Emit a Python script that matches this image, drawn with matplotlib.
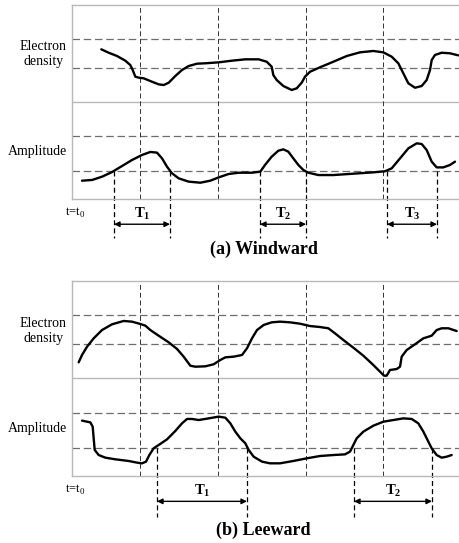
import matplotlib
matplotlib.use('Agg')
import matplotlib.pyplot as plt

plt.rcParams['font.family'] = ['Liberation Serif', 'DejaVu Serif']
plt.rcParams['mathtext.fontset'] = 'custom'
plt.rcParams['mathtext.rm'] = 'Liberation Serif'
plt.rcParams['mathtext.bf'] = 'Liberation Serif:bold'

# time axis runs 0..10, each panel: amplitude 0..1, electron density 1..2
grid_t = [1.757, 3.773, 6.047, 8.036]
ref_levels = [0.29, 0.65, 1.35, 1.65]

wind_dens_t = [0.757, 0.948, 1.163, 1.377, 1.506, 1.568, 1.636, 1.723, 1.853, 2.067,
               2.240, 2.370, 2.499, 2.669, 2.842, 3.015, 3.230, 3.444, 3.791, 4.134,
               4.478, 4.824, 5.031, 5.160, 5.202, 5.289, 5.460, 5.677, 5.806, 5.935,
               6.021, 6.150, 6.408, 6.752, 7.098, 7.442, 7.786, 8.044, 8.261, 8.432,
               8.561, 8.690, 8.863, 9.036, 9.165, 9.251, 9.295, 9.380, 9.553, 9.767, 9.982]
wind_dens_v = [1.543, 1.508, 1.474, 1.426, 1.381, 1.330, 1.261, 1.251, 1.244, 1.209,
               1.182, 1.175, 1.199, 1.268, 1.330, 1.371, 1.395, 1.399, 1.409, 1.426,
               1.440, 1.440, 1.415, 1.364, 1.278, 1.227, 1.165, 1.124, 1.141, 1.199,
               1.261, 1.312, 1.358, 1.415, 1.474, 1.512, 1.526, 1.512, 1.467, 1.399,
               1.296, 1.193, 1.147, 1.165, 1.227, 1.330, 1.433, 1.485, 1.508, 1.502, 1.481]

wind_amp_t = [0.258, 0.517, 0.775, 1.034, 1.292, 1.550, 1.809, 2.024, 2.196, 2.326,
              2.455, 2.584, 2.756, 3.015, 3.316, 3.574, 3.790, 4.048, 4.307, 4.651,
              4.866, 4.987, 5.159, 5.332, 5.461, 5.590, 5.719, 5.849, 5.978, 6.107,
              6.365, 6.753, 7.270, 7.787, 8.088, 8.260, 8.476, 8.691, 8.906, 9.036,
              9.165, 9.294, 9.423, 9.595, 9.768, 9.897]
wind_amp_v = [0.189, 0.196, 0.230, 0.278, 0.340, 0.402, 0.454, 0.485, 0.478, 0.419,
              0.333, 0.265, 0.213, 0.179, 0.168, 0.189, 0.223, 0.258, 0.271, 0.271,
              0.282, 0.351, 0.436, 0.498, 0.512, 0.488, 0.419, 0.351, 0.299, 0.271,
              0.247, 0.247, 0.261, 0.275, 0.286, 0.316, 0.419, 0.522, 0.574, 0.567,
              0.505, 0.385, 0.326, 0.326, 0.351, 0.385]

lee_dens_t = [0.172, 0.258, 0.388, 0.560, 0.775, 1.034, 1.335, 1.550, 1.766, 1.895,
              2.024, 2.239, 2.498, 2.713, 2.885, 3.058, 3.187, 3.445, 3.661, 3.833,
              3.962, 4.177, 4.393, 4.522, 4.651, 4.780, 4.953, 5.159, 5.375, 5.633,
              5.892, 6.150, 6.408, 6.624, 6.796, 7.011, 7.270, 7.528, 7.787, 7.959,
              8.062, 8.131, 8.217, 8.390, 8.476, 8.519, 8.648, 8.863, 9.079, 9.294,
              9.423, 9.552, 9.725, 9.940]
lee_dens_v = [1.166, 1.241, 1.326, 1.412, 1.497, 1.556, 1.590, 1.583, 1.559, 1.542,
              1.497, 1.439, 1.371, 1.303, 1.224, 1.131, 1.121, 1.125, 1.146, 1.190,
              1.217, 1.224, 1.241, 1.310, 1.412, 1.497, 1.549, 1.576, 1.583, 1.576,
              1.562, 1.538, 1.528, 1.515, 1.463, 1.395, 1.316, 1.234, 1.138, 1.070,
              1.029, 1.029, 1.087, 1.097, 1.121, 1.224, 1.292, 1.351, 1.412, 1.439,
              1.497, 1.515, 1.515, 1.487]

lee_amp_t = [0.258, 0.388, 0.474, 0.534, 0.560, 0.586, 0.689, 0.861, 1.120, 1.464,
             1.680, 1.809, 1.912, 1.998, 2.110, 2.239, 2.455, 2.670, 2.842, 2.972,
             3.101, 3.273, 3.531, 3.790, 3.962, 4.091, 4.220, 4.350, 4.479, 4.565,
             4.694, 4.910, 5.116, 5.375, 5.719, 6.064, 6.408, 6.753, 7.054, 7.184,
             7.270, 7.356, 7.528, 7.787, 8.045, 8.303, 8.562, 8.777, 8.949, 9.079,
             9.208, 9.294, 9.423, 9.552, 9.681, 9.811]
lee_amp_v = [0.568, 0.557, 0.550, 0.506, 0.386, 0.267, 0.215, 0.188, 0.171, 0.154,
             0.137, 0.130, 0.147, 0.215, 0.284, 0.318, 0.376, 0.462, 0.540, 0.585,
             0.585, 0.574, 0.591, 0.609, 0.598, 0.540, 0.455, 0.386, 0.335, 0.267,
             0.198, 0.147, 0.130, 0.130, 0.154, 0.181, 0.205, 0.215, 0.222, 0.250,
             0.318, 0.386, 0.455, 0.516, 0.557, 0.574, 0.591, 0.585, 0.540, 0.455,
             0.352, 0.284, 0.215, 0.188, 0.198, 0.215]

wind_T_bounds = [(1.085, 2.532), (4.858, 6.047), (8.140, 9.432)]
lee_T_bounds = [(2.196, 4.522), (7.287, 9.302)]
wind_T_names = ['1', '2', '3']
lee_T_names = ['1', '2']


def draw_case(ax, dens_t, dens_v, amp_t, amp_v, bounds, names, caption, low, cap_y):
    ax.set_xlim(0, 10)
    ax.set_ylim(0, 2)
    ax.set_xticks([])
    ax.set_yticks([])
    for s in ['left', 'top', 'bottom']:
        ax.spines[s].set_color('#b8b8b8')
        ax.spines[s].set_linewidth(1.0)
    ax.spines['right'].set_visible(False)
    ax.axhline(1.0, color='#b8b8b8', lw=1.0)

    for lv in ref_levels:
        ax.axhline(lv, color='#6e6e6e', lw=0.9, ls=(0, (6, 3)))
    for gt in grid_t:
        ax.axvline(gt, color='#333333', lw=0.7, ls=(0, (5, 3)))

    ax.plot(dens_t, dens_v, color='black', lw=1.7, solid_joinstyle='round',
            solid_capstyle='round')
    ax.plot(amp_t, amp_v, color='black', lw=1.7, solid_joinstyle='round',
            solid_capstyle='round')

    ax.text(-0.13, 1.49, 'Electron\ndensity', ha='right', va='center',
            multialignment='center', fontsize=10, linespacing=1.2, clip_on=False)
    ax.text(-0.13, 0.49, 'Amplitude', ha='right', va='center', fontsize=10,
            clip_on=False)
    ax.text(-0.18, -0.14, 't=t$_0$', ha='left', va='center', fontsize=9,
            clip_on=False)

    # duration markers below the panel
    for (t0, t1), nm in zip(bounds, names):
        for tb in (t0, t1):
            ax.plot([tb, tb], [ref_levels[0], low], color='black', lw=0.9,
                    ls=(0, (4, 2.5)), clip_on=False)
        ax.annotate('', xy=(t0, -0.26), xytext=(t1, -0.26),
                    arrowprops=dict(arrowstyle='<|-|>', color='black', lw=1.0,
                                    mutation_scale=8, shrinkA=0, shrinkB=0),
                    annotation_clip=False)
        ax.text((t0 + t1) / 2, -0.155, r'$\mathbf{T_%s}$' % nm, ha='center',
                va='center', fontsize=10.5, clip_on=False)

    ax.text(4.95, cap_y, caption, ha='center', va='center', fontsize=13,
            fontweight='bold', clip_on=False)


fig = plt.figure(figsize=(4.59, 5.43), dpi=100)
ax1 = fig.add_axes([0.1569, 0.6335, 0.8431, 0.3573])
ax2 = fig.add_axes([0.1569, 0.1234, 0.8431, 0.3591])

draw_case(ax1, wind_dens_t, wind_dens_v, wind_amp_t, wind_amp_v,
          wind_T_bounds, wind_T_names, '(a) Windward', -0.40, -0.515)
draw_case(ax2, lee_dens_t, lee_dens_v, lee_amp_t, lee_amp_v,
          lee_T_bounds, lee_T_names, '(b) Leeward', -0.42, -0.56)

fig.savefig('out.png', dpi=100, facecolor='white')
